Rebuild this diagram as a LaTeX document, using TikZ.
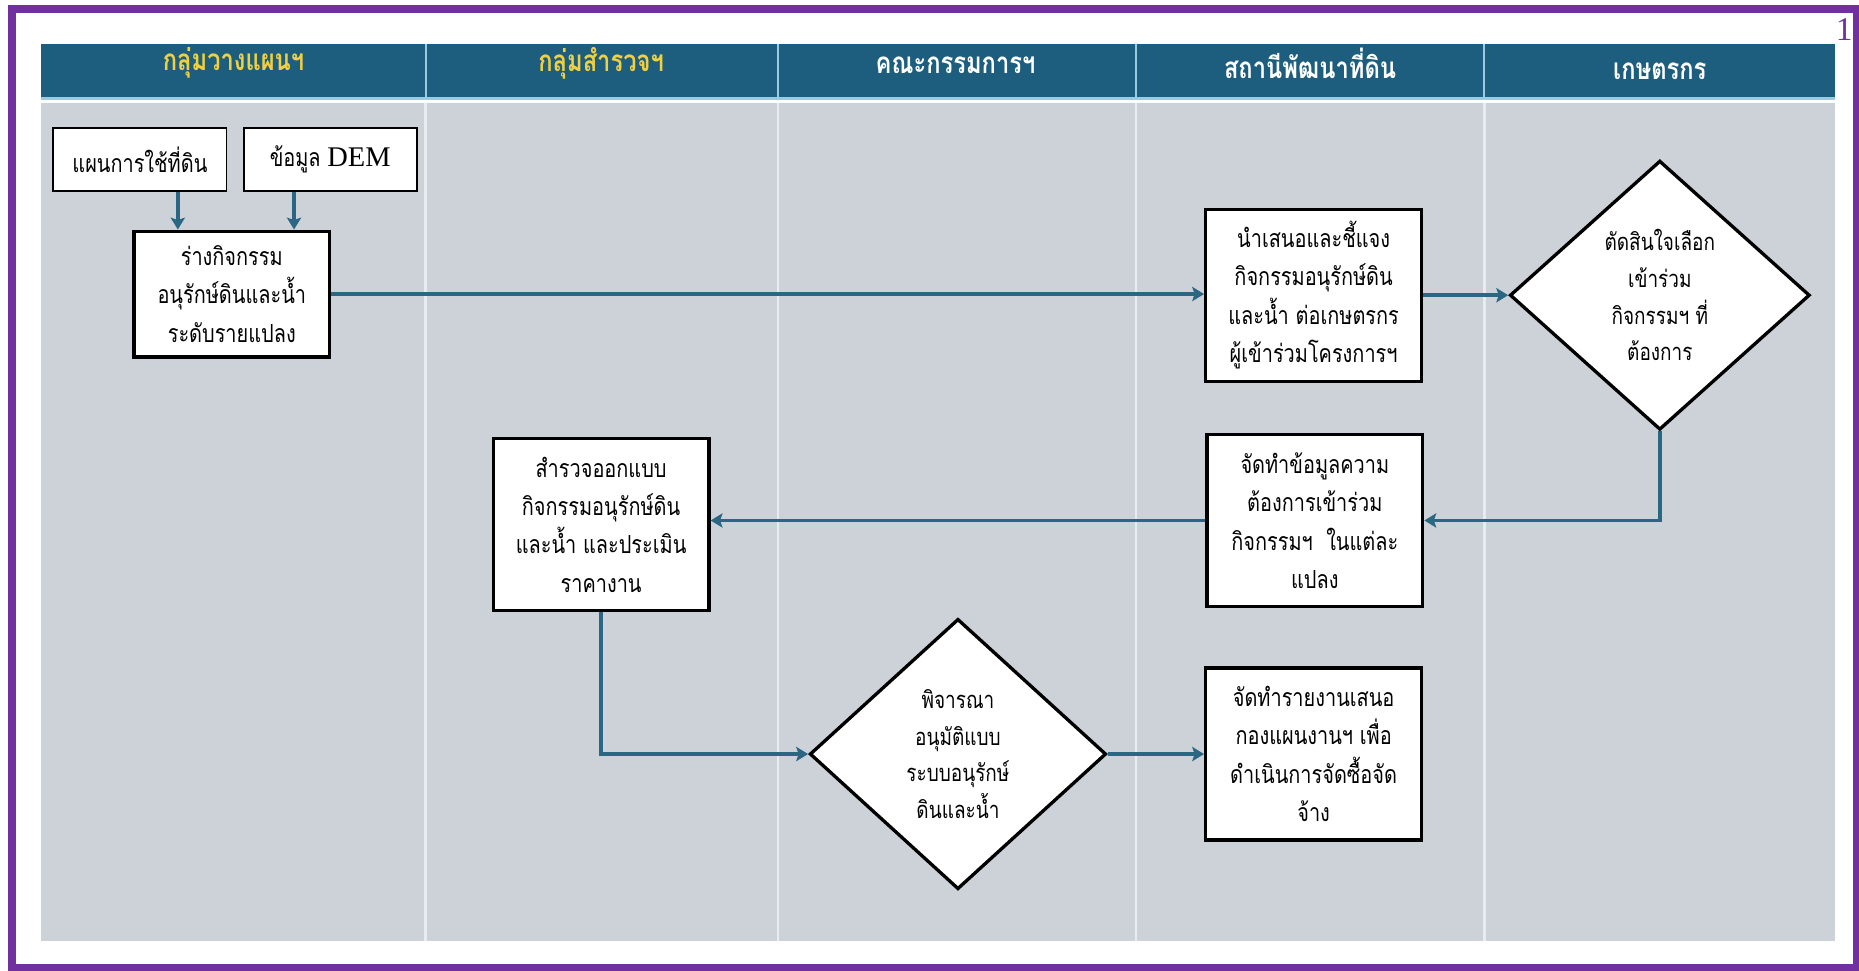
\documentclass[tikz,border=0pt]{standalone}
\usepackage{fontspec}
\setmainfont{Liberation Serif}
\newfontfamily\thaifont[Script=Thai,FakeStretch=0.8]{Loma}
\usetikzlibrary{shapes.geometric,arrows.meta}

\definecolor{framepurple}{HTML}{7030A0}
\definecolor{headblue}{HTML}{1D5E7E}
\definecolor{headline}{HTML}{9CCBE0}
\definecolor{lanegray}{HTML}{CDD2D9}
\definecolor{laneline}{HTML}{E8ECF0}
\definecolor{headyellow}{HTML}{F0D040}
\definecolor{flowblue}{HTML}{2B6682}

\begin{document}
\begin{tikzpicture}[x=0.5pt,y=-0.5pt,
  lanehead/.style={font=\thaifont\bfseries\fontsize{12.5}{12.5}\selectfont,inner sep=0},
  box/.style={draw,fill=white,line width=1.4pt,inner sep=0,minimum width=91pt,minimum height=72.5pt,align=center,font=\thaifont\fontsize{10.5}{16.2}\selectfont},
  thinbox/.style={box,line width=0.8pt,minimum width=73pt,minimum height=26.5pt},
  choice/.style={diamond,draw,fill=white,line width=1.4pt,inner sep=0,align=center,font=\thaifont\fontsize{10}{15.5}\selectfont},
  flow/.style={->,>={Stealth[length=5pt,width=6pt,inset=1pt]},flowblue,line width=1.6pt}]
  \useasboundingbox (0,0) rectangle (1568,819);
  \draw [framepurple,line width=3.5pt] (10,7.6) rectangle (1566,817);
  \node [text=framepurple,font=\fontsize{14}{14}\selectfont,inner sep=0] (pagenum) at (1555.5,24.5) {1};
  % lanes
  \fill [headblue] (35,37) rectangle (1548,82);
  \fill [headline] (35,82) rectangle (1548,84);
  \fill [lanegray] (35,87) rectangle (1548,794);
  \foreach \x in {359,656,958,1252} {
    \draw [headline,line width=0.8pt] (\x,37) -- (\x,82);
    \draw [laneline,line width=1pt] (\x,87) -- (\x,794);
  }
  \foreach \x/\y/\name/\txt/\col in {197/53/planlane/กลุ่มวางแผนฯ/headyellow,
      507/53/surveylane/กลุ่มสำรวจฯ/headyellow, 806/55/boardlane/คณะกรรมการฯ/white,
      1105/53/stationlane/สถานีพัฒนาที่ดิน/white, 1400/60/farmerlane/เกษตรกร/white} {
    \node [lanehead,text=\col] (\name) at (\x,\y) {\txt};
  }

  \node [thinbox] (landuse) at (118,134.5) {แผนการใช้ที่ดิน};
  \node [thinbox] (demdata) at (278.5,134.5) {ข้อมูล {\rmfamily\fontsize{12}{12}\selectfont DEM}};
  \node [box,minimum width=82.5pt,minimum height=53pt] (draft) at (195.5,248) {ร่างกิจกรรม\\อนุรักษ์ดินและน้ำ\\ระดับรายแปลง};
  \node [box] (present) at (1108,249) {นำเสนอและชี้แจง\\กิจกรรมอนุรักษ์ดิน\\และน้ำ ต่อเกษตรกร\\ผู้เข้าร่วมโครงการฯ};
  \node [choice,minimum width=126.5pt,minimum height=113.5pt] (decide) at (1400,249) {ตัดสินใจเลือก\\เข้าร่วม\\กิจกรรมฯ ที่\\ต้องการ};
  \node [box] (needs) at (1109,439) {จัดทำข้อมูลความ\\ต้องการเข้าร่วม\\กิจกรรมฯ~ ในแต่ละ\\แปลง};
  \node [box] (design) at (507,442.5) {สำรวจออกแบบ\\กิจกรรมอนุรักษ์ดิน\\และน้ำ และประเมิน\\ราคางาน};
  \node [choice,minimum width=125pt,minimum height=114pt] (approve) at (808,636) {พิจารณา\\อนุมัติแบบ\\ระบบอนุรักษ์\\ดินและน้ำ};
  \node [box] (report) at (1108,636) {จัดทำรายงานเสนอ\\กองแผนงานฯ เพื่อ\\ดำเนินการจัดซื้อจัด\\จ้าง};

  \draw [flow] ([xshift=16pt]landuse.south) -- ([xshift=16pt]landuse.south |- draft.north);
  \draw [flow] ([xshift=-15.25pt]demdata.south) -- ([xshift=-15.25pt]demdata.south |- draft.north);
  \draw [flow] (draft.east) -- (present.west |- draft.east);
  \draw [flow] (present.east) -- (decide.west);
  \draw [flow] (decide.south) |- (needs.east);
  \draw [flow] (needs.west) -- (design.east |- needs.west);
  \draw [flow] (design.south) |- (approve.west);
  \draw [flow] (approve.east) -- (report.west);
\end{tikzpicture}
\end{document}
